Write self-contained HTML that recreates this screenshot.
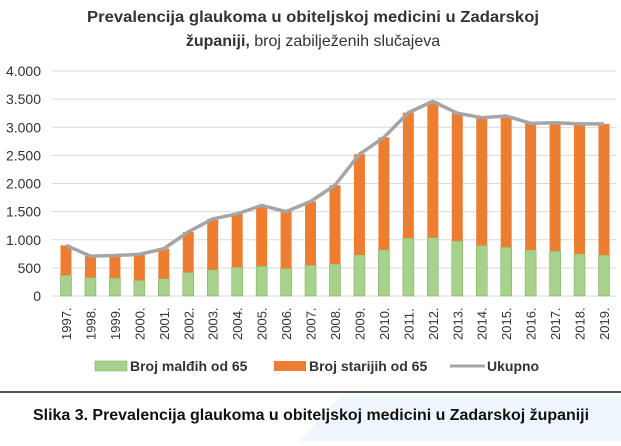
<!DOCTYPE html>
<html><head><meta charset="utf-8"><style>
body{margin:0;width:621px;height:441px;background:#fff;overflow:hidden;font-family:"Liberation Sans",sans-serif}
</style></head><body>
<svg width="621" height="441" xmlns="http://www.w3.org/2000/svg">
<polygon points="300,441 340,396 621,396 621,441" fill="#eef6fb"/>
<text x="313" y="22" text-anchor="middle" font-size="16" font-weight="bold" fill="#333" textLength="452" lengthAdjust="spacingAndGlyphs">Prevalencija glaukoma u obiteljskoj medicini u Zadarskoj</text>
<text x="313" y="46" text-anchor="middle" font-size="16" fill="#333"><tspan font-weight="bold">županiji,</tspan> broj zabilježenih slučajeva</text>
<g id="grid"></g><g id="bars"></g><g id="line"></g><g id="ylab"></g><g id="xlab"></g>
<g>
<rect x="95" y="361" width="32" height="10" fill="#a9d18e" stroke="#70ad47" stroke-width="0.5"/>
<text x="130" y="371" font-size="14" font-weight="bold" fill="#333">Broj malđih od 65</text>
<rect x="274" y="361" width="32" height="10" fill="#ed7d31"/>
<text x="309" y="371" font-size="14" font-weight="bold" fill="#333">Broj starijih od 65</text>
<line x1="450" y1="366" x2="485" y2="366" stroke="#a5a5a5" stroke-width="3"/>
<text x="487" y="371" font-size="14" font-weight="bold" fill="#333">Ukupno</text>
</g>
<line x1="0" y1="392" x2="621" y2="392" stroke="#555" stroke-width="2"/>
<text x="311" y="420" text-anchor="middle" font-size="16" font-weight="bold" fill="#111" textLength="556" lengthAdjust="spacingAndGlyphs">Slika 3. Prevalencija glaukoma u obiteljskoj medicini u Zadarskoj županiji</text>
</svg>
<script>
const years=["1997.","1998.","1999.","2000.","2001.","2002.","2003.","2004.","2005.","2006.","2007.","2008.","2009.","2010.","2011.","2012.","2013.","2014.","2015.","2016.","2017.","2018.","2019."];
const younger=[370,330,320,280,310,420,470,510,530,490,550,570,730,820,1030,1040,980,900,870,820,800,750,730];
const total=[900,710,720,740,840,1140,1370,1460,1610,1500,1680,1970,2520,2820,3260,3460,3250,3170,3200,3070,3080,3060,3060];
const yTicks=[0,500,1000,1500,2000,2500,3000,3500,4000];
const yTickLabels=["0","500","1.000","1.500","2.000","2.500","3.000","3.500","4.000"];
const NS="http://www.w3.org/2000/svg";
const y=v=>296-v*225/4000;
const x=i=>66+i*(538/22);
function mk(t,a,p){const e=document.createElementNS(NS,t);for(const k in a)e.setAttribute(k,a[k]);document.getElementById(p).appendChild(e);return e;}
yTicks.forEach((v,i)=>{
 const l=mk('line',{x1:52,x2:616,y1:y(v),y2:y(v),stroke:'#d9d9d9','stroke-width':1},'grid');
 
 
 const t=mk('text',{x:41,y:y(v)+5,'text-anchor':'end','font-size':14,fill:'#333'},'ylab');
 t.textContent=yTickLabels[i];
 
 
});
years.forEach((yr,i)=>{
 const g=mk('rect',{x:x(i)-5.5,y:y(younger[i]),width:11,height:y(0)-y(younger[i]),fill:'#a9d18e',stroke:'#70ad47','stroke-width':0.5},'bars');
 
 
 const o=mk('rect',{x:x(i)-5.5,y:y(total[i]),width:11,height:y(younger[i])-y(total[i]),fill:'#ed7d31'},'bars');
 
 
 const t=mk('text',{x:0,y:0,transform:`translate(${x(i)+5},${340}) rotate(-90)`,'font-size':13,fill:'#333'},'xlab');
 t.textContent=yr;
 
 
});
const p=mk('polyline',{points:total.map((v,i)=>x(i)+','+y(v)).join(' '),fill:'none',stroke:'#a5a5a5','stroke-width':3.5,'stroke-linejoin':'round'},'line');


</script>
</body></html>
